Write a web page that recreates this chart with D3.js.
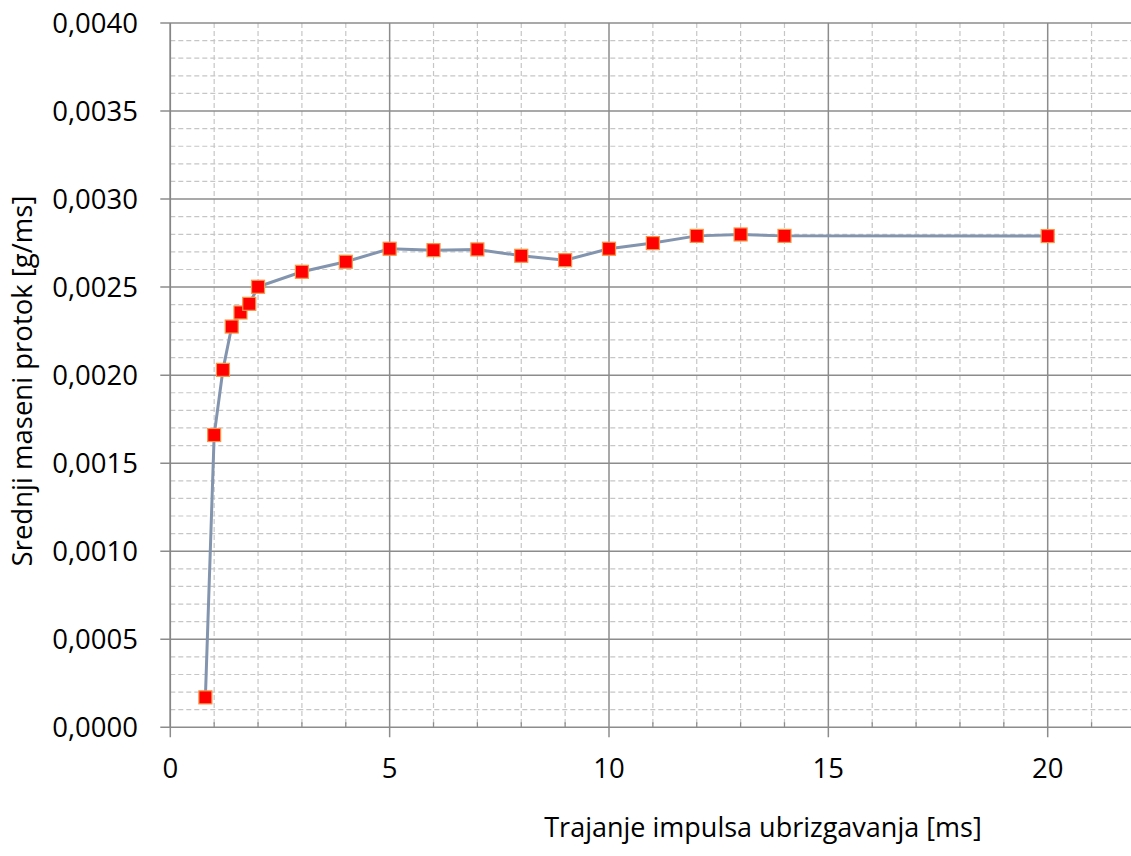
<!DOCTYPE html>
<html>
<head>
<meta charset="utf-8">
<script src="https://cdn.jsdelivr.net/npm/d3@7"></script>
<style>
  html, body { margin: 0; padding: 0; background: #fff; }
  svg { display: block; }
  text { font-family: "Open Sans", sans-serif; fill: #000; }
</style>
</head>
<body>
<svg id="chart" width="1131" height="856"></svg>
<script>
// ---- data ----
const durations = [0.8, 1.0, 1.2, 1.4, 1.6, 1.8, 2, 3, 4, 5, 6, 7, 8, 9, 10, 11, 12, 13, 14, 20];
const massFlow = [0.00017, 0.00166, 0.00203, 0.002276, 0.002356, 0.002405, 0.002502, 0.002587, 0.002644,
                  0.002718, 0.00271, 0.002714, 0.002678, 0.002653, 0.002718, 0.00275, 0.002791, 0.002799,
                  0.002791, 0.00279];
const xMajorTicks = [0, 5, 10, 15, 20];
const yMajorTicks = [0, 0.0005, 0.001, 0.0015, 0.002, 0.0025, 0.003, 0.0035, 0.004];
const xTitle = "Trajanje impulsa ubrizgavanja [ms]";
const yTitle = "Srednji maseni protok [g/ms]";

// ---- layout ----
const plotLeft = 170.3, plotTop = 23, plotBottom = 727.3;
const x = d3.scaleLinear().domain([0, 22]).range([plotLeft, plotLeft + 22 * 43.87]);
const y = d3.scaleLinear().domain([0, 0.004]).range([plotBottom, plotTop]);

const svg = d3.select("#chart");
const fmt = v => v.toFixed(4).replace(".", ",");

// minor grid (dashed)
const xMinor = d3.range(1, 23).filter(v => v % 5 !== 0);
const yMinor = d3.range(1, 41).filter(v => v % 5 !== 0).map(v => v * 0.0001);
const g = svg.append("g");
g.selectAll(".xminor").data(xMinor).enter().append("line")
  .attr("x1", d => x(d)).attr("x2", d => x(d)).attr("y1", plotTop).attr("y2", plotBottom)
  .attr("stroke", "#c6c6c6").attr("stroke-width", 1.2).attr("stroke-dasharray", "5,3");
g.selectAll(".yminor").data(yMinor).enter().append("line")
  .attr("x1", plotLeft).attr("x2", 1131).attr("y1", d => y(d)).attr("y2", d => y(d))
  .attr("stroke", "#c6c6c6").attr("stroke-width", 1.2).attr("stroke-dasharray", "5,3");

// minor inner ticks on x axis
g.selectAll(".xmt").data(xMinor).enter().append("line")
  .attr("x1", d => x(d)).attr("x2", d => x(d)).attr("y1", plotBottom).attr("y2", plotBottom - 5)
  .attr("stroke", "#8c8c8c").attr("stroke-width", 1.3);

// major grid
g.selectAll(".xmaj").data(xMajorTicks).enter().append("line")
  .attr("x1", d => x(d)).attr("x2", d => x(d)).attr("y1", plotTop).attr("y2", plotBottom + 10)
  .attr("stroke", "#8c8c8c").attr("stroke-width", 1.5);
g.selectAll(".ymaj").data(yMajorTicks).enter().append("line")
  .attr("x1", plotLeft - 10).attr("x2", 1131).attr("y1", d => y(d)).attr("y2", d => y(d))
  .attr("stroke", "#8c8c8c").attr("stroke-width", 1.5);

// axis line
g.append("line").attr("x1", plotLeft).attr("x2", plotLeft).attr("y1", plotTop).attr("y2", plotBottom)
  .attr("stroke", "#868686").attr("stroke-width", 1.5);

// tick labels
svg.append("g").selectAll("text").data(yMajorTicks).enter().append("text")
  .attr("x", 138).attr("y", d => y(d)).attr("dy", "0.36em")
  .attr("text-anchor", "end").attr("font-size", 27.5).text(fmt);
svg.append("g").selectAll("text").data(xMajorTicks).enter().append("text")
  .attr("x", d => x(d)).attr("y", 778)
  .attr("text-anchor", "middle").attr("font-size", 27.5).text(d => d);

// axis titles
svg.append("text").attr("x", 763).attr("y", 837).attr("text-anchor", "middle")
  .attr("font-size", 27).text(xTitle);
svg.append("text").attr("transform", "translate(32,381) rotate(-90)")
  .attr("text-anchor", "middle").attr("font-size", 27.5).text(yTitle);

// line
const pts = durations.map((d, i) => [d, massFlow[i]]);
svg.append("path").datum(pts)
  .attr("d", d3.line().x(d => x(d[0])).y(d => y(d[1])))
  .attr("fill", "none").attr("stroke", "#8394ae").attr("stroke-width", 3);

// markers
svg.append("g").selectAll("rect").data(pts).enter().append("rect")
  .attr("x", d => x(d[0]) - 6.5).attr("y", d => y(d[1]) - 6.5)
  .attr("width", 13).attr("height", 13)
  .attr("fill", "#ff0000").attr("stroke", "#f79646").attr("stroke-width", 1.2);
</script>
</body>
</html>
